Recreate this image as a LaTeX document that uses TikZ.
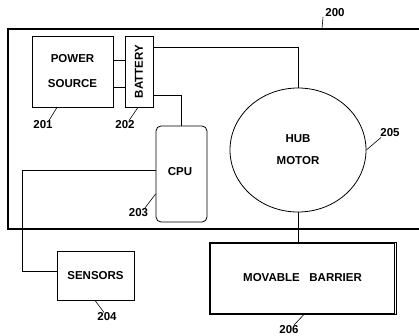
\documentclass[tikz,border=0pt]{standalone}
\usepackage{fontspec}
\setmainfont{Liberation Sans}
\usetikzlibrary{positioning, shapes.geometric, calc}

\begin{document}
\begin{tikzpicture}[x=1pt, y=-1pt, line width=0.8pt,
  every node/.style={font=\fontsize{11.5}{14}\selectfont\bfseries, inner sep=0pt},
  unit/.style={draw, minimum width=#1},
  lbl/.style={font=\fontsize{11.5}{14}\selectfont\bfseries}]
\useasboundingbox (0,0) rectangle (419,336);
% housing 200, open to the right
\draw[line width=1.1pt] (419,29) -- (8,29) -- (8,229) -- (419,229);
\coordinate (c200) at (322,29);

\node[unit=81pt, minimum height=71pt, align=center, font=\fontsize{11.5}{25}\selectfont\bfseries] (pwr) at (72.5,71.5) {POWER\\SOURCE};
\node[unit=28pt, minimum height=71pt] (bat) at (139,71.5) {};
\node[rotate=90] at (bat) {BATTERY};
\node[unit=51pt, minimum height=96pt, rounded corners=5pt] (cpu) at (181.5,174) {};
\node at (180,172) {CPU};
\node[draw, ellipse, minimum width=136pt, minimum height=124pt, align=center, font=\fontsize{11.5}{22}\selectfont\bfseries] (hub) at (298,150) {HUB\\MOTOR};
\node[unit=77pt, minimum height=49pt] (sen) at (95.5,275.5) {SENSORS};
\node[unit=187pt, minimum height=72pt] (bar) at (302.5,278) {MOVABLE\ \ \ BARRIER};
\draw ([shift={(2pt,-1.5pt)}]bar.north west) rectangle ([shift={(-2pt,1.5pt)}]bar.south east);

% reference numerals
\node[lbl] (l200) at (335,12.5) {200};
\node[lbl] (l201) at (43,125) {201};
\node[lbl] (l202) at (125,125) {202};
\node[lbl] (l203) at (138.5,213) {203};
\node[lbl] (l204) at (107,317) {204};
\node[lbl] (l205) at (390,133) {205};
\node[lbl] (l206) at (289,329.5) {206};

% wiring
\draw ([yshift=11.5pt]pwr.east) -- ([yshift=11.5pt]bat.west);
\draw ([yshift=-15.5pt]pwr.east) -- ([yshift=-15.5pt]bat.west);
\draw ([yshift=24.5pt]bat.east) -| (hub.north);
\draw ([yshift=-23.5pt]bat.east) -| (cpu.north);
\draw ([yshift=4pt]cpu.west) -- ++(-133,0) |- ([yshift=4.5pt]sen.west);
\draw (hub.south) -- (bar.north -| hub.south);

% leaders
\draw[line width=0.6pt] (c200) -- ([xshift=-2pt]l200.south west);
\draw[line width=0.6pt] ([xshift=-15.5pt]pwr.south) -- ([xshift=-4pt]l201.north east);
\draw[line width=0.6pt] ([xshift=-1pt]bat.south) -- ([xshift=-6pt]l202.north east);
\draw[line width=0.6pt] ([yshift=-20pt]cpu.west) -- ([xshift=-4pt]l203.north east);
\draw[line width=0.6pt] ([xshift=-0.5pt]sen.south) -- ([xshift=-3pt]l204.north);
\draw[line width=0.6pt] (hub.east) -- ([xshift=1pt]l205.south west);
\draw[line width=0.6pt] ([xshift=1.5pt]bar.south) -- ([xshift=5pt]l206.north);
\end{tikzpicture}
\end{document}
